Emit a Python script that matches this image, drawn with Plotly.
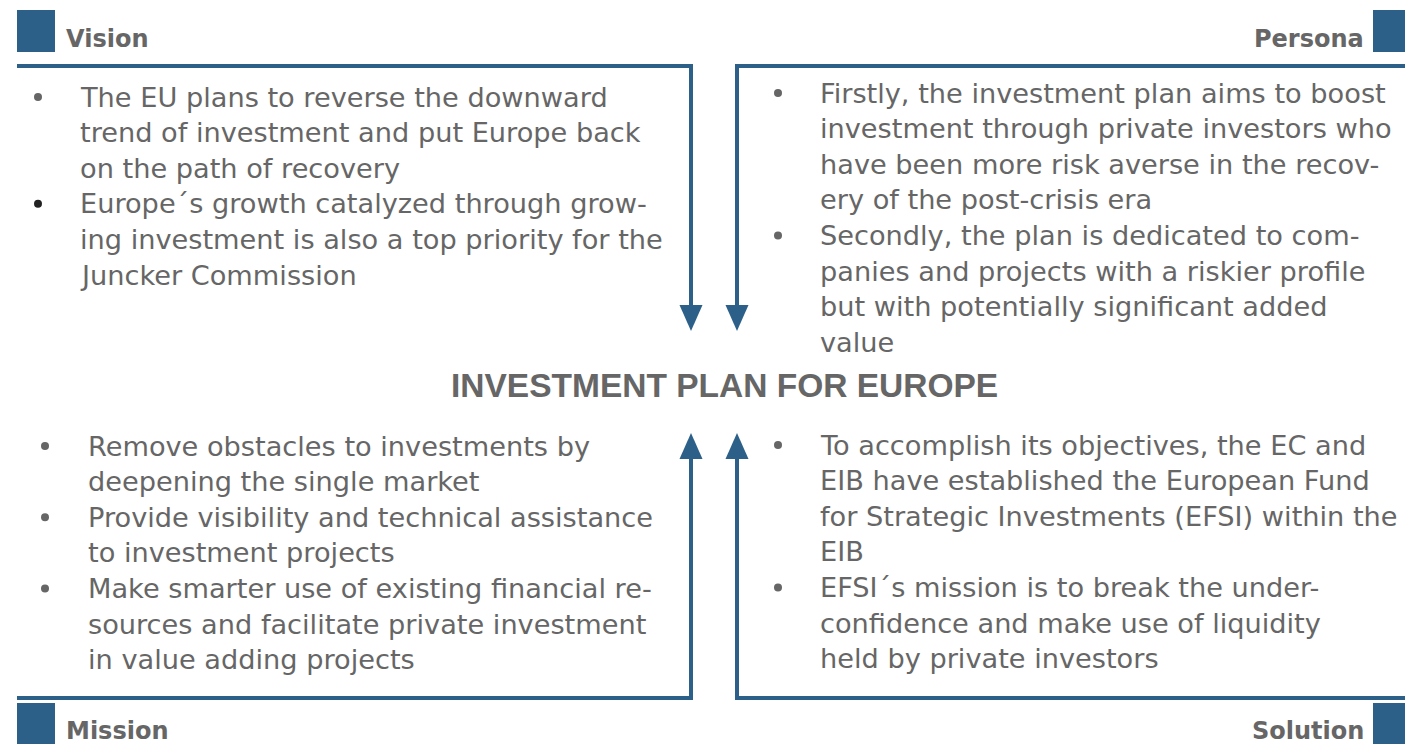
import plotly.graph_objects as go

W, H = 1405, 744
BLUE = "#2c6089"
GREY = "#666666"

title_text = "INVESTMENT PLAN FOR EUROPE"
headers = ["Vision", "Persona", "Mission", "Solution"]

vision_bullets = [
    ["The EU plans to reverse the downward", "trend of investment and put Europe back", "on the path of recovery"],
    ["Europe´s growth catalyzed through grow-", "ing investment is also a top priority for the", "Juncker Commission"],
]
persona_bullets = [
    ["Firstly, the investment plan aims to boost", "investment through private investors who",
     "have been more risk averse in the recov-", "ery of the post-crisis era"],
    ["Secondly, the plan is dedicated to com-", "panies and projects with a riskier profile",
     "but with potentially significant added", "value"],
]
mission_bullets = [
    ["Remove obstacles to investments by", "deepening the single market"],
    ["Provide visibility and technical assistance", "to investment projects"],
    ["Make smarter use of existing financial re-", "sources and facilitate private investment",
     "in value adding projects"],
]
solution_bullets = [
    ["To accomplish its objectives, the EC and", "EIB have established the European Fund",
     "for Strategic Investments (EFSI) within the", "EIB"],
    ["EFSI´s mission is to break the under-", "confidence and make use of liquidity",
     "held by private investors"],
]

fig = go.Figure()
shapes = []
annotations = []

LW = 4
xl, xr = 691, 737      # arrow shafts
ytop, ybot = 66, 698   # horizontal rules
AH, AW = 26, 23        # arrow head length / width
top_tip, bot_tip = 331, 433

def line_path(pts):
    return "M " + " L ".join(f"{x},{y}" for x, y in pts)

shapes.append(dict(type="path", path=line_path([(17, ytop), (xl, ytop), (xl, top_tip - AH + 2)]),
                   line=dict(color=BLUE, width=LW)))
shapes.append(dict(type="path", path=line_path([(1405, ytop), (xr, ytop), (xr, top_tip - AH + 2)]),
                   line=dict(color=BLUE, width=LW)))
shapes.append(dict(type="path", path=line_path([(17, ybot), (xl, ybot), (xl, bot_tip + AH - 2)]),
                   line=dict(color=BLUE, width=LW)))
shapes.append(dict(type="path", path=line_path([(1405, ybot), (xr, ybot), (xr, bot_tip + AH - 2)]),
                   line=dict(color=BLUE, width=LW)))
for x in (xl, xr):
    shapes.append(dict(type="path",
                       path=f"M {x - AW/2},{top_tip - AH} L {x + AW/2},{top_tip - AH} L {x},{top_tip} Z",
                       fillcolor=BLUE, line=dict(width=0)))
    shapes.append(dict(type="path",
                       path=f"M {x - AW/2},{bot_tip + AH} L {x + AW/2},{bot_tip + AH} L {x},{bot_tip} Z",
                       fillcolor=BLUE, line=dict(width=0)))

for (x0, x1, y0, y1) in [(17, 55, 10, 52), (1373, 1405, 10, 52), (17, 55, 703, 744), (1373, 1405, 703, 744)]:
    shapes.append(dict(type="rect", x0=x0, x1=x1, y0=y0, y1=y1, fillcolor=BLUE, line=dict(width=0)))

HFONT = dict(family="DejaVu Sans", size=24, color=GREY)
for txt, x, y, anc in [(headers[0], 64, 39, "left"), (headers[1], 1366, 39, "right"),
                       (headers[2], 64, 731, "left"), (headers[3], 1366, 731, "right")]:
    annotations.append(dict(x=x, y=y, text=f"<b>{txt}</b>", showarrow=False, xanchor=anc, yanchor="middle",
                            font=HFONT))

annotations.append(dict(x=724, y=385, text=f"<b>{title_text}</b>", showarrow=False, xanchor="center",
                        yanchor="middle", font=dict(family="Liberation Sans, Arial", size=33.5, color=GREY)))

BFONT = dict(family="DejaVu Sans", size=27.2, color=GREY)
STEP = 35.6

def add_block(bullets, x_text, x_bullet, y0, bullet_colors):
    bx, by, bc = [], [], []
    i = 0
    for k, lines in enumerate(bullets):
        for j, ln in enumerate(lines):
            y = y0 + i * STEP
            if j == 0:
                bx.append(x_bullet); by.append(y); bc.append(bullet_colors[k])
            annotations.append(dict(x=x_text, y=y, text=ln, showarrow=False, xanchor="left",
                                    yanchor="middle", font=BFONT))
            i += 1
    fig.add_trace(go.Scatter(x=bx, y=by, mode="markers", hoverinfo="skip",
                             marker=dict(size=8, color=bc), showlegend=False))

add_block(vision_bullets, 78, 38, 97, [GREY, "#222222"])
add_block(persona_bullets, 818, 778, 93, [GREY, GREY])
add_block(mission_bullets, 86, 45, 446, [GREY, GREY, GREY])
add_block(solution_bullets, 818, 778, 445, [GREY, GREY])

fig.update_layout(
    width=W, height=H, margin=dict(l=0, r=0, t=0, b=0),
    paper_bgcolor="white", plot_bgcolor="white",
    xaxis=dict(range=[0, W], visible=False, fixedrange=True),
    yaxis=dict(range=[H, 0], visible=False, fixedrange=True),
    shapes=shapes, annotations=annotations, showlegend=False,
)
fig.write_html("out.html", config={"displayModeBar": False},
               post_script="document.body.style.margin='0';document.body.style.overflow='hidden';")
